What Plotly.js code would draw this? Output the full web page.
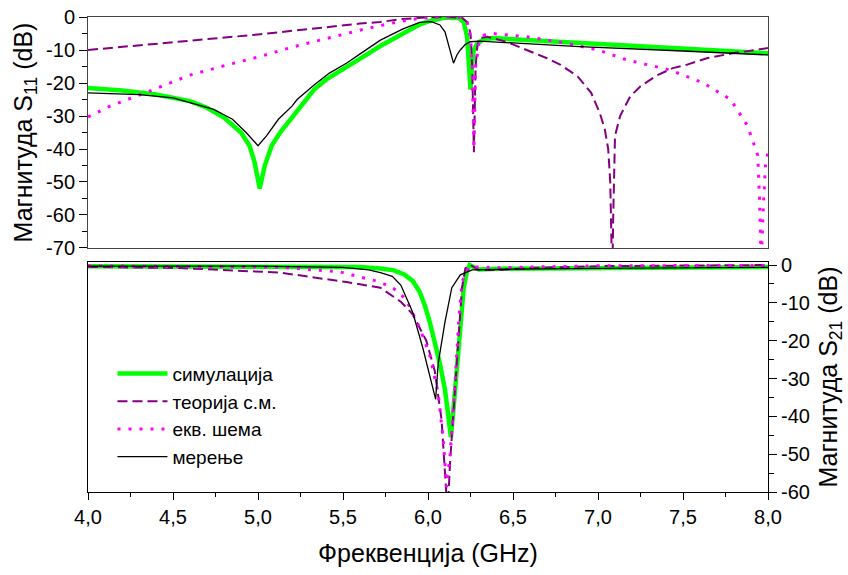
<!DOCTYPE html>
<html>
<head>
<meta charset="utf-8">
<script src="https://cdn.plot.ly/plotly-3.0.1.min.js"></script>
<style>html,body{margin:0;padding:0;background:#fff;}#chart{width:848px;height:575px;}</style>
</head>
<body>
<div id="chart"></div>
<script>
// ---- Legend / series names ----
const seriesNames = ['симулација', 'теорија с.м.', 'екв. шема', 'мерење'];

// ---- S11 (top panel) ----
const fSimS11  = [4.0,4.2,4.4,4.6,4.7,4.8,4.9,4.95,4.98,5.01,5.04,5.08,5.13,5.2,5.28,5.33,5.4,5.52,5.62,5.72,5.85,5.95,6.01,6.1,6.18,6.21,6.23,6.24,6.25,6.26,6.27,6.29,6.32,6.38,6.6,6.89,7.5,8.0];
const simS11   = [-21.5,-22.3,-23.5,-25.5,-27.5,-30.5,-35,-39,-44,-52,-45,-39,-35,-30.5,-25,-22,-19,-15,-12,-8.8,-5,-2.3,-1.2,-0.2,-0.3,-1.5,-6,-13,-22,-14,-10,-8,-7,-6.4,-7,-8,-9.6,-11];

const fTheS11  = [4.0,4.3,4.66,4.84,5.0,5.2,5.4,5.6,5.72,5.85,6.0,6.1,6.2,6.23,6.25,6.26,6.27,6.28,6.29,6.3,6.35,6.46,6.58,6.7,6.78,6.88,6.96,7.01,7.04,7.06,7.072,7.079,7.084,7.089,7.095,7.1,7.13,7.19,7.25,7.35,7.44,7.52,7.64,7.79,7.95,8.0];
const theS11   = [-10,-8.6,-7,-6.2,-5.3,-4.2,-3,-2,-1.5,-0.6,-0.1,0,-0.2,-1.5,-5,-15,-41,-15,-9,-6.4,-6,-7.5,-10,-12.5,-14.5,-18,-23,-29,-34,-40,-50,-66,-80,-62,-44,-36,-30,-24,-21,-17.6,-15.5,-14.5,-12.5,-11,-9.8,-9.4];

const fEqvS11  = [4.0,4.13,4.35,4.6,4.82,5.01,5.21,5.4,5.6,5.72,5.82,5.95,6.1,6.2,6.23,6.25,6.26,6.27,6.28,6.3,6.33,6.38,6.58,6.8,7.0,7.17,7.42,7.62,7.78,7.88,7.94,7.95,7.96,7.97,7.985,8.0];
const eqvS11   = [-30.3,-27,-22.7,-17.6,-14.5,-12,-9,-6.5,-4,-2.6,-1.5,-0.4,0,-0.2,-1.5,-6,-15,-40,-15,-8,-5.5,-5,-6,-7.8,-10,-13,-16,-20,-25,-33,-42,-55,-75,-60,-45,-41];

const fMeaS11  = [4.0,4.3,4.5,4.74,4.85,4.93,5.0,5.05,5.12,5.2,5.23,5.33,5.42,5.52,5.62,5.72,5.85,5.95,6.02,6.07,6.1,6.12,6.15,6.17,6.19,6.22,6.25,6.3,6.4,6.6,6.89,7.5,8.0];
const meaS11   = [-23,-23.5,-24.5,-28,-31,-35,-39,-36,-31,-27,-25,-20.6,-17,-14,-10.5,-7,-3.7,-1.6,-1.4,-2.4,-4.5,-8,-14,-11.5,-10,-8.3,-7.5,-7.3,-7.6,-8.2,-9,-10.3,-11.5];

// ---- S21 (bottom panel) ----
const fSimS21  = [4.0,5.0,5.5,5.6,5.72,5.8,5.86,5.91,5.95,5.98,6.01,6.04,6.07,6.1,6.12,6.135,6.15,6.17,6.19,6.21,6.23,6.245,6.27,6.3,6.42,7.0,8.0];
const simS21   = [-0.3,-0.3,-0.4,-0.5,-0.9,-1.4,-2.5,-4.2,-7,-10.5,-15,-20,-26,-33,-40,-45.5,-38,-28,-16,-6,-1.5,0,-0.6,-1.2,-1,-0.8,-0.5];

const fTheS21  = [4.0,4.54,5.13,5.52,5.72,5.84,5.91,5.99,6.04,6.08,6.1,6.115,6.13,6.16,6.18,6.2,6.22,6.25,6.3,6.42,6.6,7.0,8.0];
const theS21   = [-0.5,-0.8,-2,-4.5,-6,-9.7,-13,-20,-28,-41,-55,-66,-52,-32,-19,-6,-0.8,0,-1.3,-1.3,-0.8,-0.3,0];

const fEqvS21  = [4.0,5.13,5.48,5.72,5.8,5.87,5.95,6.01,6.06,6.09,6.11,6.13,6.16,6.18,6.2,6.24,6.29,6.42,7.0,8.0];
const eqvS21   = [-0.2,-0.6,-1.8,-4.5,-6.3,-9,-16.5,-23.7,-34,-46.5,-58.7,-50,-31,-15,-4.5,-0.5,-0.5,-0.7,-0.2,-0.1];

const fMeaS21  = [4.0,5.0,5.5,5.65,5.72,5.79,5.84,5.91,5.97,6.01,6.045,6.06,6.1,6.14,6.19,6.26,6.5,7.0,8.0];
const meaS21   = [-0.3,-0.3,-0.6,-1.3,-2,-3,-5.3,-12.5,-22,-29,-35.5,-26,-15,-6,-2.6,-1.3,-1.1,-0.9,-0.6];

// ---- Tick labels / axis labels ----
const y1TickVals = [0,-10,-20,-30,-40,-50,-60,-70];
const y1TickText = ['0','-10','-20','-30','-40','-50','-60','-70'];
const y2TickVals = [0,-10,-20,-30,-40,-50,-60];
const y2TickText = ['0','-10','-20','-30','-40','-50','-60'];
const xTitle   = 'Фреквенција (GHz)';
const y1Title  = 'Магнитуда S<sub>11</sub> (dB)';
const y2Title  = 'Магнитуда S<sub>21</sub> (dB)';

const styles = [
  {color:'#00ff00', width:4.5, dash:'solid'},
  {color:'#800080', width:2,   dash:'10px,5px'},
  {color:'#ff00ff', width:3,   dash:'3px,8px'},
  {color:'#000000', width:1.3, dash:'solid'}
];
const s11 = [[fSimS11,simS11],[fTheS11,theS11],[fEqvS11,eqvS11],[fMeaS11,meaS11]];
const s21 = [[fSimS21,simS21],[fTheS21,theS21],[fEqvS21,eqvS21],[fMeaS21,meaS21]];

const traces = [];
[0,1,2,3].forEach(i => {
  traces.push({x:s11[i][0], y:s11[i][1], xaxis:'x2', yaxis:'y', type:'scatter', mode:'lines',
    name:seriesNames[i], legendrank:i+1, showlegend:true, line:styles[i], hoverinfo:'skip'});
});
[0,1,2,3].forEach(i => {
  traces.push({x:s21[i][0], y:s21[i][1], xaxis:'x', yaxis:'y2', type:'scatter', mode:'lines',
    name:seriesNames[i], showlegend:false, line:styles[i], hoverinfo:'skip'});
});

const fam = '"Liberation Sans", Arial, sans-serif';
const font = {family:fam, size:20, color:'#000'};
const titleFont = {family:fam, size:25, color:'#000'};

const layout = {
  width:848, height:575,
  margin:{l:88, r:80, t:17, b:83},
  paper_bgcolor:'#fff', plot_bgcolor:'#fff',
  separators:',.',
  font:font,
  showlegend:true,
  legend:{x:0.036, y:0.289, xanchor:'left', yanchor:'top', bgcolor:'rgba(0,0,0,0)',
          itemwidth:50, font:{family:fam, size:19, color:'#000'}, tracegroupgap:0},
  xaxis:{anchor:'y2', domain:[0,1], range:[4,8], tick0:4, dtick:0.5, tickformat:'.1f',
         ticks:'outside', ticklen:7, tickwidth:1, tickcolor:'#000',
         minor:{ticks:'outside', ticklen:4, dtick:0.25, tickcolor:'#000'},
         showline:true, linecolor:'#000', linewidth:1, mirror:true, showgrid:false, zeroline:false,
         tickfont:font, title:{text:xTitle, font:titleFont, standoff:17}},
  xaxis2:{anchor:'y', domain:[0,1], range:[4,8], matches:'x', showticklabels:false, ticks:'',
         showline:true, linecolor:'#444', linewidth:1, mirror:true, showgrid:false, zeroline:false},
  yaxis:{anchor:'x2', domain:[0.5137,1], range:[-70,0], tickmode:'array', tickvals:y1TickVals, ticktext:y1TickText,
         ticks:'outside', ticklen:8, tickcolor:'#000',
         minor:{ticks:'outside', ticklen:5, tick0:0, dtick:5, tickcolor:'#000'},
         showline:true, linecolor:'#444', linewidth:1, mirror:true, showgrid:false, zeroline:false,
         tickfont:font, title:{text:y1Title, font:titleFont, standoff:6}},
  yaxis2:{anchor:'x', domain:[0,0.4842], range:[-60,0.8], side:'right', tickmode:'array', tickvals:y2TickVals, ticktext:y2TickText,
         ticks:'outside', ticklen:8, tickcolor:'#000',
         minor:{ticks:'outside', ticklen:5, tick0:0, dtick:5, tickcolor:'#000'},
         showline:true, linecolor:'#000', linewidth:1, mirror:true, showgrid:false, zeroline:false,
         tickfont:font, title:{text:y2Title, font:titleFont, standoff:10}}
};

Plotly.newPlot('chart', traces, layout, {displayModeBar:false, staticPlot:true});
</script>
</body>
</html>
